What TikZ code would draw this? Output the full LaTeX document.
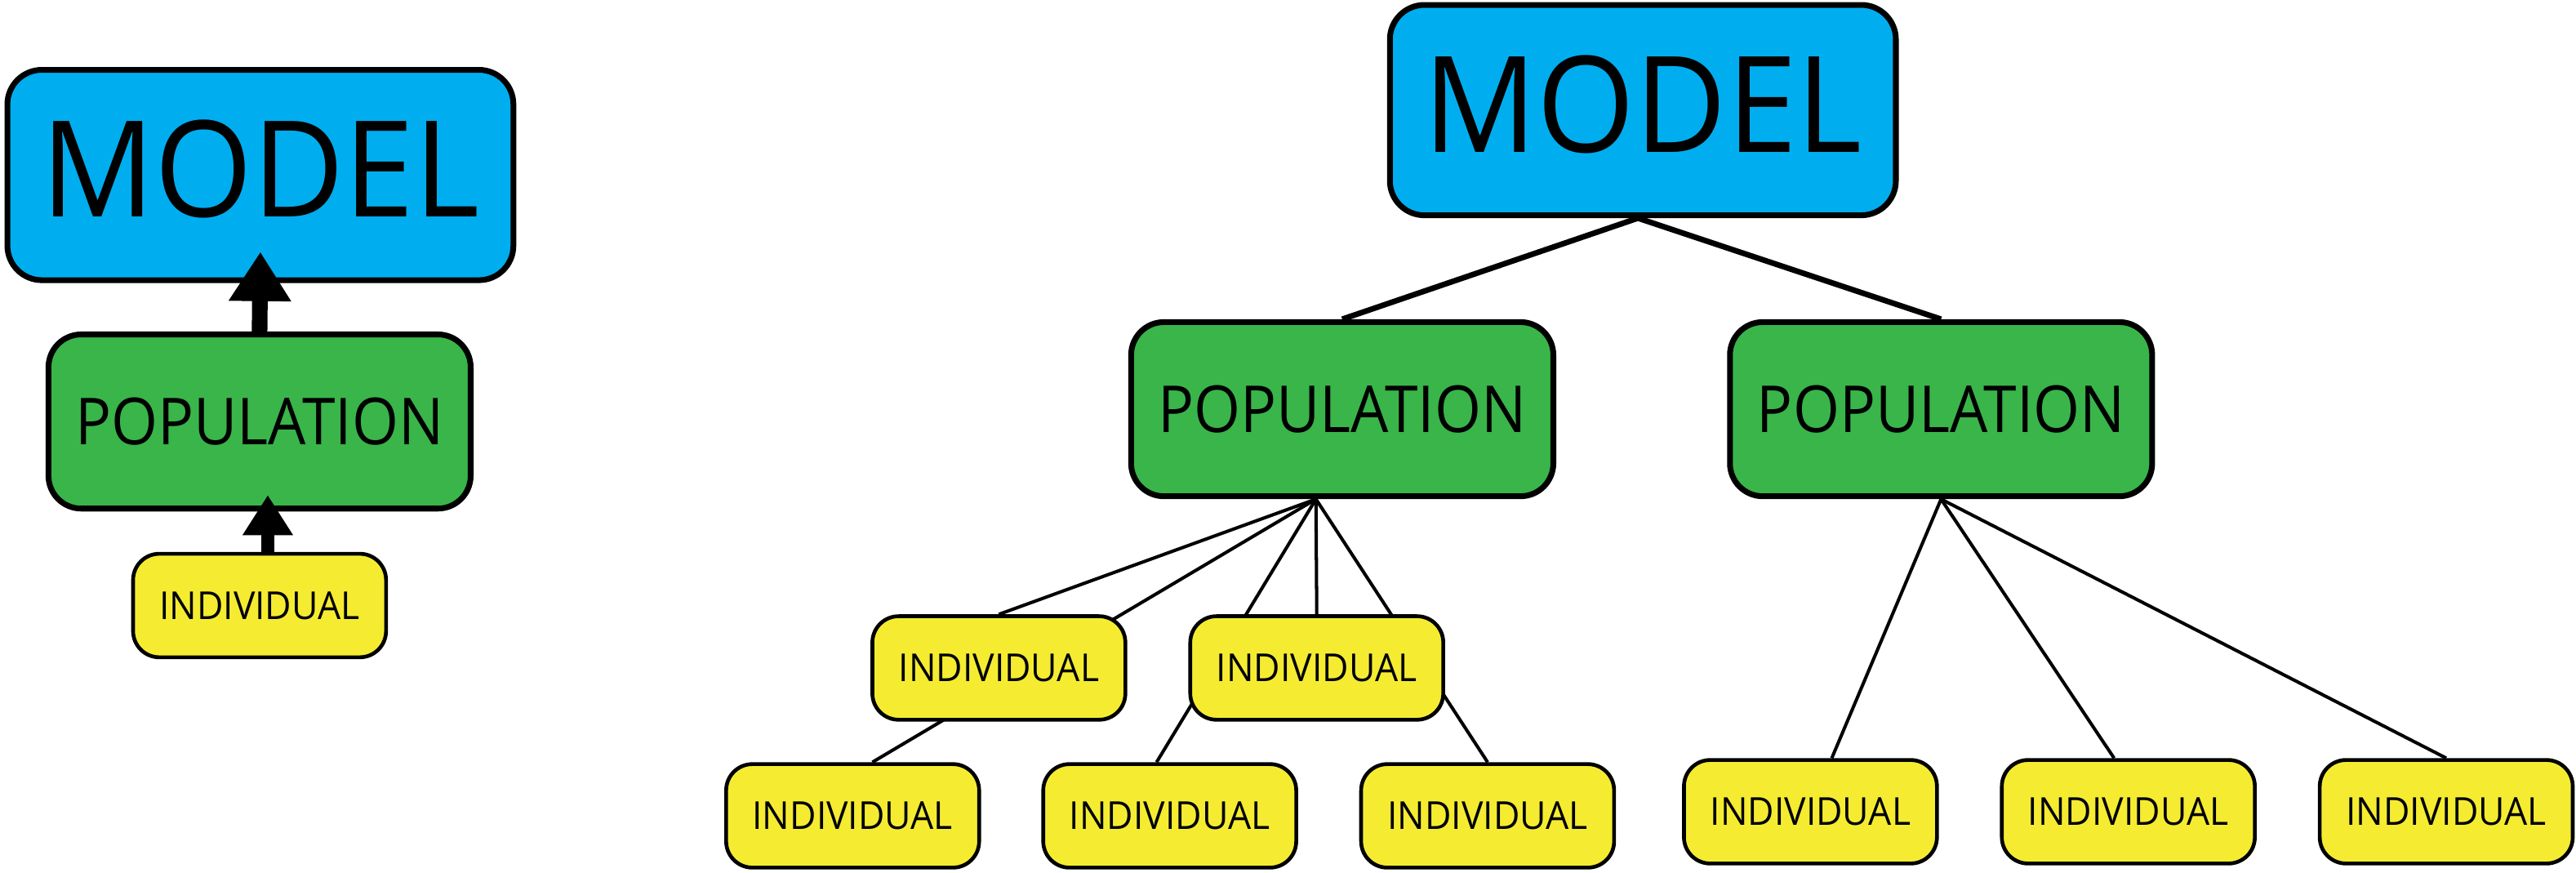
\documentclass[tikz,border=0pt]{standalone}
\usepackage{fontspec}
\setmainfont{Open Sans}
\usepackage{graphicx}
\usetikzlibrary{arrows.meta,calc}
\definecolor{modelblue}{RGB}{0,174,239}
\definecolor{popgreen}{RGB}{57,181,74}
\definecolor{indyellow}{RGB}{245,236,50}
\pgfdeclarelayer{bg}
\pgfsetlayers{bg,main}
\newcommand\modeltext{\raisebox{4pt}{\resizebox{133.5pt}{29.5pt}{MODEL}}}
\newcommand\poptext{\resizebox{112pt}{14.3pt}{POPULATION}}
\newcommand\indtext{\resizebox{61pt}{8.4pt}{INDIVIDUAL}}
\tikzset{
 modelbox/.style={draw=black, fill=modelblue, line width=1.75pt, rounded corners=10.5pt, minimum width=154pt, minimum height=64pt, inner sep=0pt},
 popbox/.style={draw=black, fill=popgreen, line width=1.75pt, rounded corners=10pt, minimum width=128.5pt, minimum height=53pt, inner sep=0pt},
 indbox/.style={draw=black, fill=indyellow, line width=1.15pt, rounded corners=8pt, minimum width=77pt, minimum height=31.5pt, inner sep=0pt},
 thickline/.style={line width=1.7pt},
 thinline/.style={line width=1pt},
 bigarrow/.style={line width=4.75pt, -{Triangle[length=15pt,width=18pt]}},
 smallarrow/.style={line width=3.85pt, -{Triangle[length=12.2pt,width=14.5pt]}},
}
\begin{document}
\begin{tikzpicture}[x=0.5pt,y=-0.5pt]
\useasboundingbox (0,0) rectangle (1568,530.8);
% left tree
\node[modelbox] (mL) at (158.5,106.5) {\modeltext};
\node[popbox] (pL) at (158,256.5) {\poptext};
\node[indbox] (iL) at (158,368.5) {\indtext};
\coordinate (a1) at ($(mL.south)+(0,-19)$);
\coordinate (a2) at ($(pL.south)+(5,-10)$);
\draw[bigarrow] (pL.north) -- (a1);
\draw[smallarrow] ($(iL.north)+(5,0)$) -- (a2);
% right tree
\node[modelbox] (mR) at (1000,67) {\modeltext};
\node[popbox] (pA) at (817,249) {\poptext};
\node[popbox] (pB) at (1181.5,249) {\poptext};
\node[indbox] (i1) at (608,406.5) {\indtext};
\node[indbox] (i2) at (801.5,406.5) {\indtext};
\node[indbox] (i3) at (519,496.5) {\indtext};
\node[indbox] (i4) at (712,496.5) {\indtext};
\node[indbox] (i5) at (905.5,496.5) {\indtext};
\node[indbox] (i6) at (1102,494) {\indtext};
\node[indbox] (i7) at (1295.5,494) {\indtext};
\node[indbox] (i8) at (1489,494) {\indtext};
\coordinate (cA) at ($(pA.south)+(-16,0)$);
\begin{pgfonlayer}{bg}
\draw[thickline] ([xshift=-1.5pt]mR.south) -- (pA.north);
\draw[thickline] ([xshift=-1.5pt]mR.south) -- (pB.north);
\draw[thinline] (cA) -- (i1.north);
\draw[thinline] (cA) -- ($(i3.north)+(12,0)$);
\draw[thinline] (cA) -- (i2.north);
\draw[thinline] (cA) -- ($(i4.north)+(-8,0)$);
\draw[thinline] (cA) -- (i5.north);
\draw[thinline] (pB.south) -- ($(i6.north)+(13,0)$);
\draw[thinline] (pB.south) -- ($(i7.north)+(-8.7,0)$);
\draw[thinline] (pB.south) -- (i8.north);
\end{pgfonlayer}
\end{tikzpicture}
\end{document}
